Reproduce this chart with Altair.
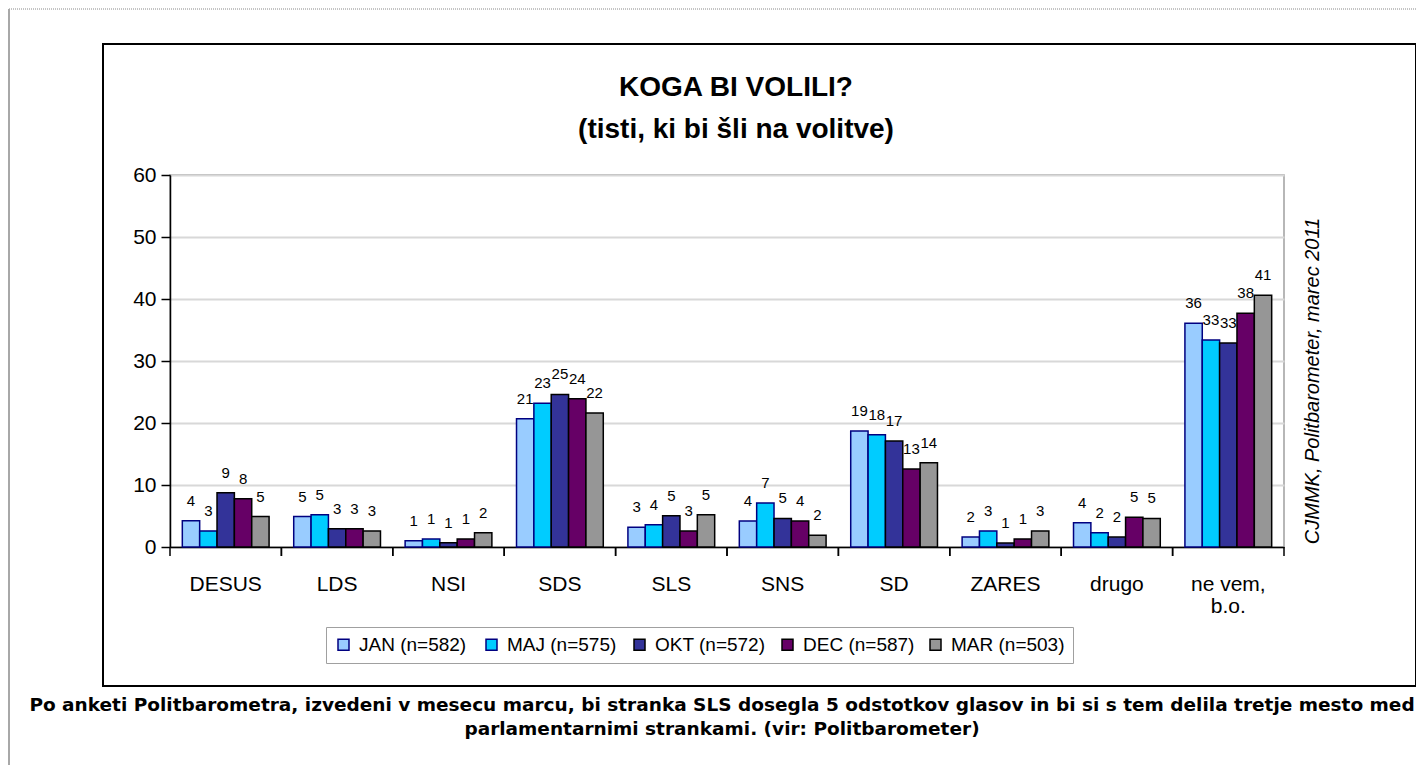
import altair as alt
import pandas as pd

# ---------------- data ----------------
parties = ["DESUS", "LDS", "NSI", "SDS", "SLS", "SNS", "SD", "ZARES", "drugo", "ne vem, b.o."]
series = ["JAN (n=582)", "MAJ (n=575)", "OKT (n=572)", "DEC (n=587)", "MAR (n=503)"]

jan = [4.25, 4.9, 1.0, 20.7, 3.2, 4.2, 18.7, 1.6, 3.9, 36.1]
maj = [2.6, 5.2, 1.3, 23.2, 3.6, 7.1, 18.1, 2.6, 2.3, 33.4]
okt = [8.76, 2.96, 0.7, 24.6, 5.05, 4.6, 17.1, 0.65, 1.6, 32.9]
dec = [7.8, 2.96, 1.3, 23.9, 2.6, 4.2, 12.6, 1.3, 4.8, 37.7]
mar = [4.9, 2.6, 2.3, 21.6, 5.2, 1.9, 13.6, 2.6, 4.6, 40.6]

jan_lbl = ["4", "5", "1", "21", "3", "4", "19", "2", "4", "36"]
maj_lbl = ["3", "5", "1", "23", "4", "7", "18", "3", "2", "33"]
okt_lbl = ["9", "3", "1", "25", "5", "5", "17", "1", "2", "33"]
dec_lbl = ["8", "3", "1", "24", "3", "4", "13", "1", "5", "38"]
mar_lbl = ["5", "3", "2", "22", "5", "2", "14", "3", "5", "41"]

fill_colors = ["#99CCFF", "#00CCFF", "#333399", "#660066", "#969696"]
stroke_colors = ["#000080", "#000080", "#000000", "#000000", "#000000"]
y_ticks = [0, 10, 20, 30, 40, 50, 60]

title_lines = ["KOGA BI VOLILI?", "(tisti, ki bi šli na volitve)"]
source_note = "CJMMK, Politbarometer, marec 2011"
caption_lines = [
    "Po anketi Politbarometra, izvedeni v mesecu marcu, bi stranka SLS dosegla 5 odstotkov glasov in bi si s tem delila tretje mesto med",
    "parlamentarnimi strankami. (vir: Politbarometer)",
]

# ---------------- table ----------------
rows = []
for s, vals, lbls in zip(series, [jan, maj, okt, dec, mar], [jan_lbl, maj_lbl, okt_lbl, dec_lbl, mar_lbl]):
    for p, v, l in zip(parties, vals, lbls):
        rows.append({"party": p, "series": s, "value": v, "label": l})
df = pd.DataFrame(rows)

FONT = "Liberation Sans"
W, H = 1114, 372

x_axis = alt.Axis(
    title=None, labelAngle=0, ticks=False, grid=False,
    domainColor="black", domainWidth=1.5,
    labelFontSize=21, labelFont=FONT, labelColor="black",
    labelPadding=26, labelLineHeight=22,
    labelExpr="datum.label == 'ne vem, b.o.' ? ['ne vem,', 'b.o.'] : datum.label",
)
x_scale = alt.Scale(paddingInner=0, paddingOuter=0)
x_enc = alt.X("party:N", sort=parties, scale=x_scale, axis=x_axis)
xo_enc = alt.XOffset("series:N", sort=series,
                     scale=alt.Scale(domain=series, paddingInner=0, paddingOuter=0.71))
y_enc = alt.Y("value:Q", scale=alt.Scale(domain=[0, 60], nice=False),
              axis=alt.Axis(title=None, values=y_ticks, domainColor="black", domainWidth=1.5,
                            tickColor="black", tickSize=9, tickWidth=1.5,
                            labelFontSize=21, labelFont=FONT, labelColor="black", labelPadding=5,
                            gridColor="#d8d8d8", gridWidth=2))

legend = alt.Legend(
    title=None, orient="none", legendX=156, legendY=452, direction="horizontal",
    columns=5, gridAlign="all", symbolType="square", symbolSize=121,
    symbolStrokeWidth=1.5, symbolOpacity=1, labelFontSize=19, labelFont=FONT,
    labelColor="black", labelOffset=6, columnPadding=9, padding=8,
    strokeColor="#a0a0a0", fillColor="white", labelLimit=400,
)

bars = alt.Chart(df).mark_bar(strokeWidth=1.5, opacity=1).encode(
    x=x_enc,
    xOffset=xo_enc,
    y=y_enc,
    color=alt.Color("series:N", sort=series,
                    scale=alt.Scale(domain=series, range=fill_colors), legend=legend),
    stroke=alt.Stroke("series:N", sort=series,
                      scale=alt.Scale(domain=series, range=stroke_colors), legend=legend),
)

labels = alt.Chart(df).mark_text(
    dy=-12, fontSize=15, font=FONT, color="black", baseline="bottom"
).encode(x=x_enc, xOffset=xo_enc, y=y_enc, text="label:N")

tick_df = pd.DataFrame({"party": parties})
ticks_left = alt.Chart(tick_df).mark_rule(color="black", strokeWidth=1.5).encode(
    x=alt.X("party:N", sort=parties, scale=x_scale, axis=x_axis, bandPosition=0),
    y=alt.value(H), y2=alt.value(H + 9))
ticks_right = alt.Chart(tick_df).mark_rule(color="black", strokeWidth=1.5).encode(
    x=alt.X("party:N", sort=parties, scale=x_scale, axis=x_axis, bandPosition=1),
    y=alt.value(H), y2=alt.value(H + 9))

one = pd.DataFrame({"k": [0]})

# page decorations (outside the chart image)
page_top = alt.Chart(one).mark_rule(color="#888888", strokeWidth=1, strokeDash=[1, 1]).encode(
    x=alt.value(-161), x2=alt.value(1246), y=alt.value(-166))
page_left = alt.Chart(one).mark_rule(color="#a8a8a8", strokeWidth=2).encode(
    x=alt.value(-161), y=alt.value(-166), y2=alt.value(590))
frame = alt.Chart(one).mark_rect(filled=False, stroke="black", strokeWidth=2).encode(
    x=alt.value(-67), x2=alt.value(1246), y=alt.value(-131), y2=alt.value(511))

title_df = pd.DataFrame({"t": ["\n".join(title_lines)]})
title = alt.Chart(title_df).mark_text(
    fontSize=28, fontWeight="bold", font=FONT, color="black", align="center",
    baseline="middle", lineBreak="\n", lineHeight=42
).encode(text="t:N", x=alt.value(566), y=alt.value(-87))

note_df = pd.DataFrame({"t": [source_note]})
note = alt.Chart(note_df).mark_text(
    fontSize=20, fontStyle="italic", font=FONT, color="black", angle=270,
    align="center", baseline="middle"
).encode(text="t:N", x=alt.value(1143), y=alt.value(206))

cap_df = pd.DataFrame({"t": ["\n".join(caption_lines)]})
caption = alt.Chart(cap_df).mark_text(
    fontSize=18.5, fontWeight="bold", font="DejaVu Sans", color="black", align="center",
    baseline="middle", lineBreak="\n", lineHeight=24
).encode(text="t:N", x=alt.value(552), y=alt.value(530))

chart = alt.layer(
    page_top, page_left, frame, bars, labels, ticks_left, ticks_right, title, note, caption
).properties(
    width=W, height=H,
    autosize=alt.AutoSizeParams(type="none"),
    padding={"left": 162, "top": 167, "right": 132, "bottom": 218},
    background="white",
).configure_view(stroke="#a0a0a0", strokeWidth=1.5)

chart.save("out.html", embed_options={"renderer": "svg", "actions": False})
